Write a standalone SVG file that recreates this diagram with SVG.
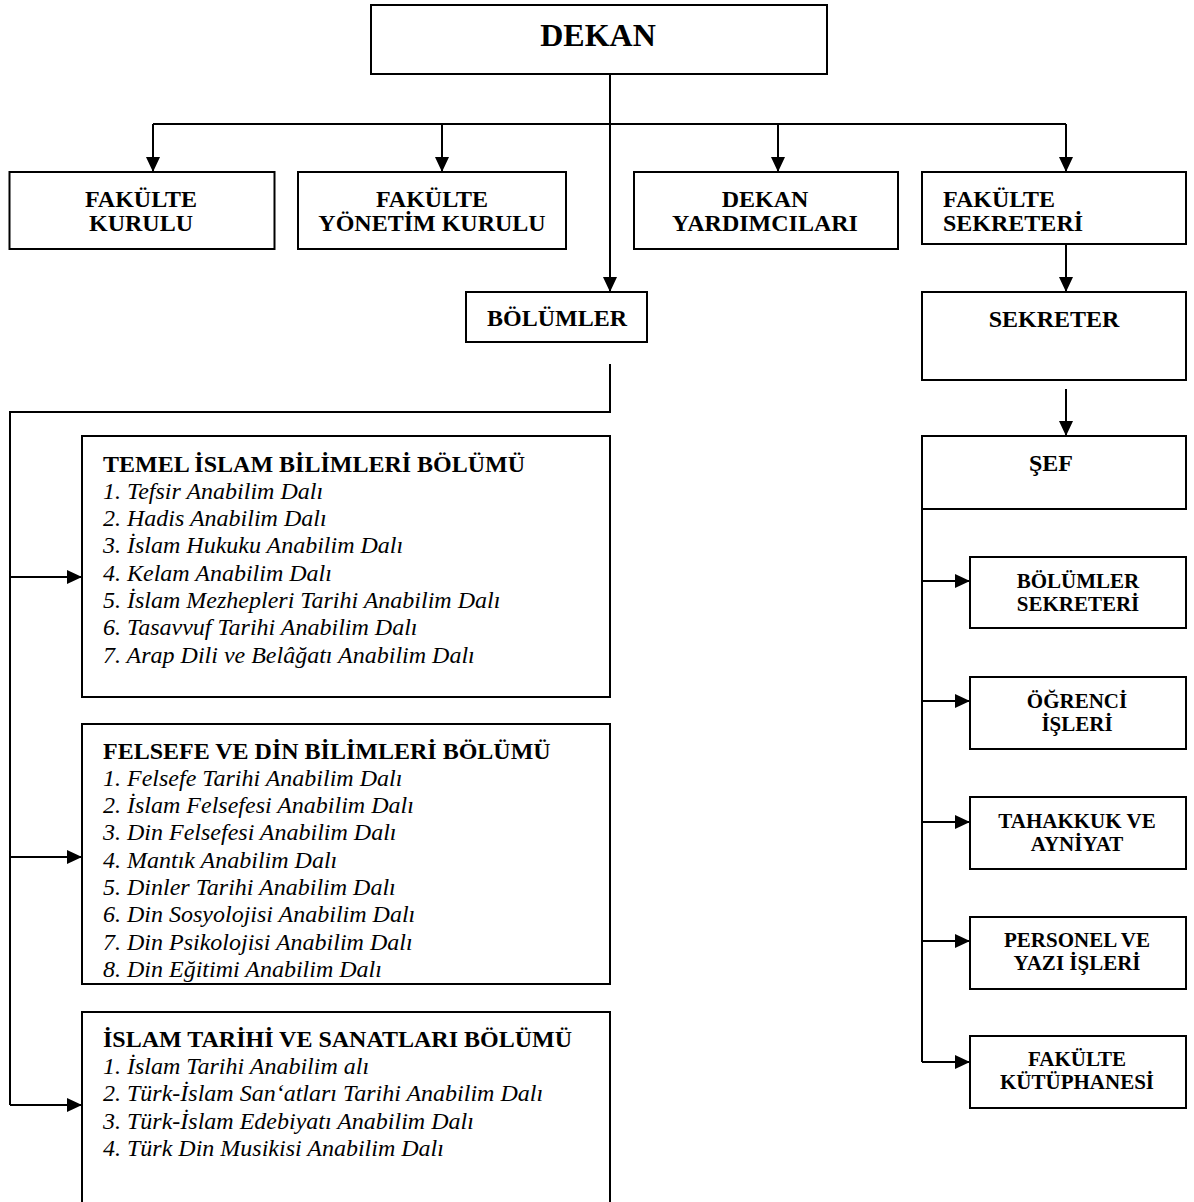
<svg xmlns="http://www.w3.org/2000/svg" width="1194" height="1202" viewBox="0 0 1194 1202">
<style>
rect.box{fill:#fff;stroke:#000;stroke-width:2}
.ln{fill:none;stroke:#000;stroke-width:2}
text{font-family:"Liberation Serif","Times New Roman",serif;fill:#000}
.b32{font-size:32px;font-weight:bold;text-anchor:middle}
.b24{font-size:24px;font-weight:bold;text-anchor:middle}
.b24l{font-size:24px;font-weight:bold}
.b21{font-size:21px;font-weight:bold;text-anchor:middle}
.it{font-size:24px;font-style:italic}
</style>
<defs>
<marker id="ah" markerUnits="userSpaceOnUse" markerWidth="16" markerHeight="14" refX="15" refY="7" orient="auto">
<path d="M0,0 L15,7 L0,14 z" fill="#000"/>
</marker>
</defs>
<rect width="1194" height="1202" fill="#fff"/>
<g id="connectors">
<path class="ln" d="M610,74 V292" marker-end="url(#ah)"/>
<path class="ln" d="M153,124 H1066"/>
<path class="ln" d="M153,124 V172" marker-end="url(#ah)"/>
<path class="ln" d="M442,124 V172" marker-end="url(#ah)"/>
<path class="ln" d="M778,124 V172" marker-end="url(#ah)"/>
<path class="ln" d="M1066,124 V172" marker-end="url(#ah)"/>
<path class="ln" d="M1066,244 V292" marker-end="url(#ah)"/>
<path class="ln" d="M1066,389 V436" marker-end="url(#ah)"/>
<path class="ln" d="M610,364 V412 H10 V1105"/>
<path class="ln" d="M10,577 H82" marker-end="url(#ah)"/>
<path class="ln" d="M10,857 H82" marker-end="url(#ah)"/>
<path class="ln" d="M10,1105 H82" marker-end="url(#ah)"/>
<path class="ln" d="M922,509 V1062"/>
<path class="ln" d="M922,581 H970" marker-end="url(#ah)"/>
<path class="ln" d="M922,701 H970" marker-end="url(#ah)"/>
<path class="ln" d="M922,822 H970" marker-end="url(#ah)"/>
<path class="ln" d="M922,941 H970" marker-end="url(#ah)"/>
<path class="ln" d="M922,1062 H970" marker-end="url(#ah)"/>
</g>
<g id="dekan">
<rect class="box" x="371" y="5" width="456" height="69"/>
<text class="b32" x="598" y="46">DEKAN</text>
</g>
<g id="fakulte-kurulu">
<rect class="box" x="9.5" y="172" width="265" height="77"/>
<text class="b24" x="141" y="207">FAKÜLTE</text>
<text class="b24" x="141" y="231">KURULU</text>
</g>
<g id="fakulte-yonetim-kurulu">
<rect class="box" x="298" y="172" width="268" height="77"/>
<text class="b24" x="432" y="207">FAKÜLTE</text>
<text class="b24" x="432" y="231">YÖNETİM KURULU</text>
</g>
<g id="dekan-yardimcilari">
<rect class="box" x="634" y="172" width="264" height="77"/>
<text class="b24" x="765" y="207">DEKAN</text>
<text class="b24" x="765" y="231">YARDIMCILARI</text>
</g>
<g id="fakulte-sekreteri">
<rect class="box" x="922" y="172" width="264" height="72"/>
<text class="b24l" x="943" y="207">FAKÜLTE</text>
<text class="b24l" x="943" y="231">SEKRETERİ</text>
</g>
<g id="bolumler">
<rect class="box" x="466" y="292" width="181" height="50"/>
<text class="b24" x="557" y="326">BÖLÜMLER</text>
</g>
<g id="sekreter">
<rect class="box" x="922" y="292" width="264" height="88"/>
<text class="b24" x="1054" y="327">SEKRETER</text>
</g>
<g id="sef">
<rect class="box" x="922" y="436" width="264" height="73"/>
<text class="b24" x="1051" y="471">ŞEF</text>
</g>
<g id="temel-islam">
<rect class="box" x="82" y="436" width="528" height="261"/>
<text class="b24l" x="103" y="472">TEMEL İSLAM BİLİMLERİ BÖLÜMÜ</text>
<text class="it" x="103" y="499">1. Tefsir Anabilim Dalı</text>
<text class="it" x="103" y="526">2. Hadis Anabilim Dalı</text>
<text class="it" x="103" y="553">3. İslam Hukuku Anabilim Dalı</text>
<text class="it" x="103" y="581">4. Kelam Anabilim Dalı</text>
<text class="it" x="103" y="608">5. İslam Mezhepleri Tarihi Anabilim Dalı</text>
<text class="it" x="103" y="635">6. Tasavvuf Tarihi Anabilim Dalı</text>
<text class="it" x="103" y="663">7. Arap Dili ve Belâğatı Anabilim Dalı</text>
</g>
<g id="felsefe-din">
<rect class="box" x="82" y="724" width="528" height="260"/>
<text class="b24l" x="103" y="759">FELSEFE VE DİN BİLİMLERİ BÖLÜMÜ</text>
<text class="it" x="103" y="786">1. Felsefe Tarihi Anabilim Dalı</text>
<text class="it" x="103" y="813">2. İslam Felsefesi Anabilim Dalı</text>
<text class="it" x="103" y="840">3. Din Felsefesi Anabilim Dalı</text>
<text class="it" x="103" y="868">4. Mantık Anabilim Dalı</text>
<text class="it" x="103" y="895">5. Dinler Tarihi Anabilim Dalı</text>
<text class="it" x="103" y="922">6. Din Sosyolojisi Anabilim Dalı</text>
<text class="it" x="103" y="950">7. Din Psikolojisi Anabilim Dalı</text>
<text class="it" x="103" y="977">8. Din Eğitimi Anabilim Dalı</text>
</g>
<g id="islam-tarihi">
<rect class="box" x="82" y="1012" width="528" height="210"/>
<text class="b24l" x="103" y="1047">İSLAM TARİHİ VE SANATLARI BÖLÜMÜ</text>
<text class="it" x="103" y="1074">1. İslam Tarihi Anabilim alı</text>
<text class="it" x="103" y="1101">2. Türk-İslam San‘atları Tarihi Anabilim Dalı</text>
<text class="it" x="103" y="1129">3. Türk-İslam Edebiyatı Anabilim Dalı</text>
<text class="it" x="103" y="1156">4. Türk Din Musikisi Anabilim Dalı</text>
</g>
<g id="bolumler-sekreteri">
<rect class="box" x="970" y="557" width="216" height="71"/>
<text class="b21" x="1078" y="588">BÖLÜMLER</text>
<text class="b21" x="1078" y="611">SEKRETERİ</text>
</g>
<g id="ogrenci-isleri">
<rect class="box" x="970" y="677" width="216" height="72"/>
<text class="b21" x="1077" y="708">ÖĞRENCİ</text>
<text class="b21" x="1077" y="731">İŞLERİ</text>
</g>
<g id="tahakkuk">
<rect class="box" x="970" y="797" width="216" height="72"/>
<text class="b21" x="1077" y="828">TAHAKKUK VE</text>
<text class="b21" x="1077" y="851">AYNİYAT</text>
</g>
<g id="personel">
<rect class="box" x="970" y="917" width="216" height="72"/>
<text class="b21" x="1077" y="947">PERSONEL VE</text>
<text class="b21" x="1077" y="970">YAZI İŞLERİ</text>
</g>
<g id="kutuphane">
<rect class="box" x="970" y="1036" width="216" height="72"/>
<text class="b21" x="1077" y="1066">FAKÜLTE</text>
<text class="b21" x="1077" y="1089">KÜTÜPHANESİ</text>
</g>
</svg>
